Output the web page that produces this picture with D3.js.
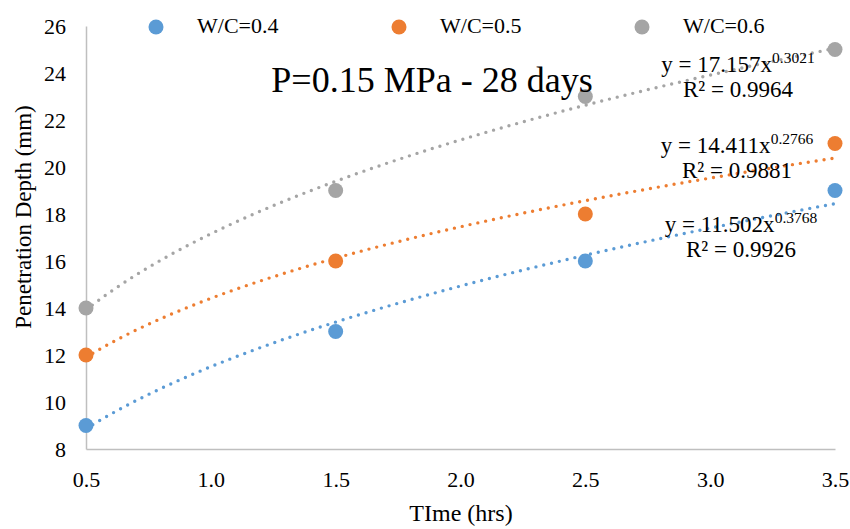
<!DOCTYPE html>
<html><head><meta charset="utf-8">
<script src="https://cdn.jsdelivr.net/npm/d3@7"></script>
<style>body{margin:0;background:#fff}</style>
</head><body><svg id="c" width="850" height="529"></svg>
<script>
const times = [0.5, 1.5, 2.5, 3.5];
const seriesNames = ["W/C=0.4", "W/C=0.5", "W/C=0.6"];
const wc04 = [9, 13, 16, 19];
const wc05 = [12, 16, 18, 21];
const wc06 = [14, 19, 23, 25];
const fitA = [11.502, 14.411, 17.157];
const fitB = [0.3768, 0.2766, 0.3021];
const fitR2 = ["0.9926", "0.9881", "0.9964"];
const colors = ["#5B9BD5", "#ED7D31", "#A5A5A5"];
const xTicks = [0.5, 1.0, 1.5, 2.0, 2.5, 3.0, 3.5];
const yTicks = [8, 10, 12, 14, 16, 18, 20, 22, 24, 26];

const FONT = "'Liberation Serif', 'Times New Roman', serif";
const svg = d3.select("#c");
const x = d3.scaleLinear().domain([0.5, 3.5]).range([86, 835]);
const y = d3.scaleLinear().domain([8, 26]).range([449, 26]);

// axes
const xa = svg.append("g").attr("transform", "translate(0,449)")
  .call(d3.axisBottom(x).tickValues(xTicks).tickFormat(d3.format(".1f")).tickSize(0).tickPadding(22));
const ya = svg.append("g").attr("transform", "translate(86,0)")
  .call(d3.axisLeft(y).tickValues(yTicks).tickSize(0).tickPadding(20));
[xa, ya].forEach(g => {
  g.select(".domain").attr("stroke", "#bfbfbf").attr("stroke-width", 1.5);
  g.selectAll("text").style("font-family", FONT).style("font-size", "22px").attr("fill", "#000");
});
ya.selectAll("text").attr("dy", "0.35em");

const data = [wc04, wc05, wc06];
// trendlines (power fits from the displayed equations)
const line = d3.line().x(d => x(d[0])).y(d => y(d[1]));
data.forEach((vals, i) => {
  const pts = d3.range(0.5, 3.5001, 0.02).map(t => [t, fitA[i] * Math.pow(t, fitB[i])]);
  svg.append("path").attr("d", line(pts)).attr("fill", "none")
    .attr("stroke", colors[i]).attr("stroke-width", 3.4)
    .attr("stroke-linecap", "round").attr("stroke-dasharray", "0 8");
});
// points
data.forEach((vals, i) => {
  svg.append("g").selectAll("circle").data(vals).join("circle")
    .attr("cx", (d, j) => x(times[j])).attr("cy", d => y(d)).attr("r", 7.5)
    .attr("fill", colors[i]);
});

// equation labels
const eqPos = [[741, 232], [737, 153], [738, 72]];
data.forEach((vals, i) => {
  const t = svg.append("text").attr("x", eqPos[i][0]).attr("y", eqPos[i][1])
    .attr("text-anchor", "middle").style("font-family", FONT).style("font-size", "23px");
  t.append("tspan").text("y = " + fitA[i].toFixed(3) + "x");
  t.append("tspan").attr("dy", -9).style("font-size", "15.5px").text(fitB[i].toFixed(4));
  svg.append("text").attr("x", eqPos[i][0]).attr("y", eqPos[i][1] + 25)
    .attr("text-anchor", "middle").style("font-family", FONT).style("font-size", "23px")
    .text("R² = " + fitR2[i]);
});

// legend
const legX = [156, 399, 642];
seriesNames.forEach((n, i) => {
  svg.append("circle").attr("cx", legX[i]).attr("cy", 27).attr("r", 7.5).attr("fill", colors[i]);
  svg.append("text").attr("x", legX[i] + 41).attr("y", 33)
    .style("font-family", FONT).style("font-size", "22px").text(n);
});

// title
svg.append("text").attr("x", 432).attr("y", 92).attr("text-anchor", "middle")
  .style("font-family", FONT).style("font-size", "36px").text("P=0.15 MPa - 28 days");

// axis titles
svg.append("text").attr("x", 461).attr("y", 521).attr("text-anchor", "middle")
  .style("font-family", FONT).style("font-size", "24px").text("TIme (hrs)");
svg.append("text").attr("transform", "translate(31,217) rotate(-90)").attr("text-anchor", "middle")
  .style("font-family", FONT).style("font-size", "23px").text("Penetration Depth (mm)");
</script></body></html>
